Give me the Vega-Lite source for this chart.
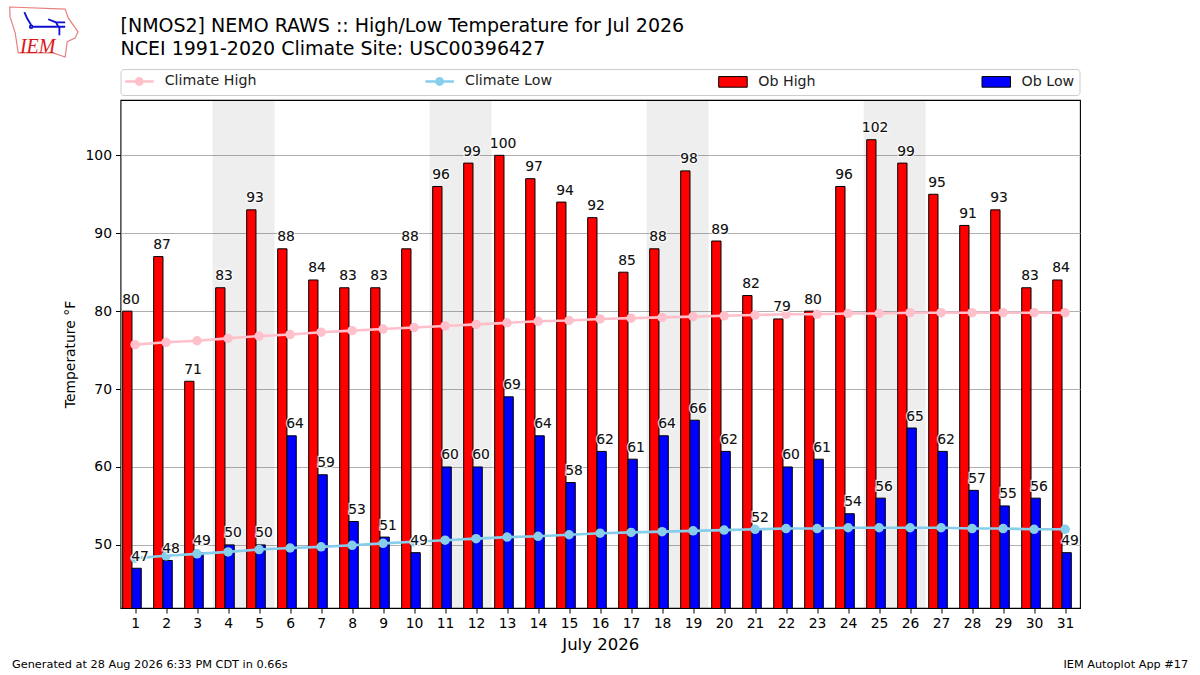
{
  "$schema": "https://vega.github.io/schema/vega-lite/v6.json",
  "width": 959.5,
  "height": 508,
  "autosize": "none",
  "padding": {"left": 120.5, "top": 100, "right": 120, "bottom": 67},
  "background": "white",
  "config": {
    "font": "DejaVu Sans",
    "view": {"stroke": "black", "strokeWidth": 1.1}
  },
  "title": {
    "text": ["[NMOS2] NEMO RAWS :: High/Low Temperature for Jul 2026", "NCEI 1991-2020 Climate Site: USC00396427"],
    "anchor": "start",
    "frame": "group",
    "font": "DejaVu Sans",
    "fontSize": 19,
    "fontWeight": "normal",
    "color": "black",
    "lineHeight": 23,
    "offset": 11,
    "dy": 65
  },
  "datasets": {
    "days": [
      {"day": 1, "ob_high": 80, "ob_low": 47, "clim_high": 75.7, "clim_low": 48.3},
      {"day": 2, "ob_high": 87, "ob_low": 48, "clim_high": 76.0, "clim_low": 48.6},
      {"day": 3, "ob_high": 71, "ob_low": 49, "clim_high": 76.2, "clim_low": 48.85},
      {"day": 4, "ob_high": 83, "ob_low": 50, "clim_high": 76.5, "clim_low": 49.1},
      {"day": 5, "ob_high": 93, "ob_low": 50, "clim_high": 76.8, "clim_low": 49.4},
      {"day": 6, "ob_high": 88, "ob_low": 64, "clim_high": 77.0, "clim_low": 49.6},
      {"day": 7, "ob_high": 84, "ob_low": 59, "clim_high": 77.3, "clim_low": 49.75},
      {"day": 8, "ob_high": 83, "ob_low": 53, "clim_high": 77.5, "clim_low": 49.95},
      {"day": 9, "ob_high": 83, "ob_low": 51, "clim_high": 77.7, "clim_low": 50.2},
      {"day": 10, "ob_high": 88, "ob_low": 49, "clim_high": 77.9, "clim_low": 50.4},
      {"day": 11, "ob_high": 96, "ob_low": 60, "clim_high": 78.1, "clim_low": 50.6},
      {"day": 12, "ob_high": 99, "ob_low": 60, "clim_high": 78.3, "clim_low": 50.8},
      {"day": 13, "ob_high": 100, "ob_low": 69, "clim_high": 78.5, "clim_low": 51.0},
      {"day": 14, "ob_high": 97, "ob_low": 64, "clim_high": 78.7, "clim_low": 51.1},
      {"day": 15, "ob_high": 94, "ob_low": 58, "clim_high": 78.8, "clim_low": 51.3},
      {"day": 16, "ob_high": 92, "ob_low": 62, "clim_high": 79.0, "clim_low": 51.5},
      {"day": 17, "ob_high": 85, "ob_low": 61, "clim_high": 79.1, "clim_low": 51.6},
      {"day": 18, "ob_high": 88, "ob_low": 64, "clim_high": 79.2, "clim_low": 51.7},
      {"day": 19, "ob_high": 98, "ob_low": 66, "clim_high": 79.3, "clim_low": 51.8},
      {"day": 20, "ob_high": 89, "ob_low": 62, "clim_high": 79.4, "clim_low": 51.9},
      {"day": 21, "ob_high": 82, "ob_low": 52, "clim_high": 79.5, "clim_low": 52.0},
      {"day": 22, "ob_high": 79, "ob_low": 60, "clim_high": 79.6, "clim_low": 52.1},
      {"day": 23, "ob_high": 80, "ob_low": 61, "clim_high": 79.6, "clim_low": 52.1},
      {"day": 24, "ob_high": 96, "ob_low": 54, "clim_high": 79.7, "clim_low": 52.2},
      {"day": 25, "ob_high": 102, "ob_low": 56, "clim_high": 79.7, "clim_low": 52.2},
      {"day": 26, "ob_high": 99, "ob_low": 65, "clim_high": 79.8, "clim_low": 52.2},
      {"day": 27, "ob_high": 95, "ob_low": 62, "clim_high": 79.8, "clim_low": 52.2},
      {"day": 28, "ob_high": 91, "ob_low": 57, "clim_high": 79.8, "clim_low": 52.1},
      {"day": 29, "ob_high": 93, "ob_low": 55, "clim_high": 79.8, "clim_low": 52.1},
      {"day": 30, "ob_high": 83, "ob_low": 56, "clim_high": 79.8, "clim_low": 52.0},
      {"day": 31, "ob_high": 84, "ob_low": 49, "clim_high": 79.8, "clim_low": 52.0}
    ],
    "weekends": [
      {"start": 3.5, "end": 5.5},
      {"start": 10.5, "end": 12.5},
      {"start": 17.5, "end": 19.5},
      {"start": 24.5, "end": 26.5}
    ],
    "footer": [
      {"x": -2.97, "y": 34.6, "note": "Generated at 28 Aug 2026 6:33 PM CDT in 0.66s", "side": "left"},
      {"x": 34.97, "y": 34.6, "note": "IEM Autoplot App #17", "side": "right"}
    ]
  },
  "data": {"name": "days"},
  "encoding": {
    "x": {
      "field": "day",
      "type": "quantitative",
      "scale": {"domain": [0.53, 31.48], "nice": false, "zero": false, "padding": 0},
      "axis": {
        "values": [1,2,3,4,5,6,7,8,9,10,11,12,13,14,15,16,17,18,19,20,21,22,23,24,25,26,27,28,29,30,31],
        "format": "d",
        "title": "July 2026",
        "titleFont": "DejaVu Sans",
        "titleFontSize": 16.5,
        "titleFontWeight": "normal",
        "titleColor": "black",
        "titlePadding": 7,
        "labelFontSize": 13.9,
        "labelColor": "black",
        "labelFlush": false,
        "labelOverlap": false,
        "labelPadding": 3,
        "tickColor": "black",
        "tickSize": 5,
        "domain": false,
        "grid": false
      }
    },
    "y": {
      "type": "quantitative",
      "scale": {"domain": [41.9, 107.1], "nice": false, "zero": false},
      "axis": {
        "values": [50, 60, 70, 80, 90, 100],
        "title": "Temperature °F",
        "titleFont": "DejaVu Sans",
        "titleFontSize": 13.9,
        "titleFontWeight": "normal",
        "titleColor": "black",
        "titlePadding": 7,
        "labelFontSize": 13.9,
        "labelColor": "black",
        "labelPadding": 4,
        "tickColor": "black",
        "tickSize": 5,
        "domain": false,
        "grid": true,
        "gridColor": "#b0b0b0",
        "gridWidth": 1
      }
    },
    "fill": {
      "scale": {
        "domain": ["Climate High", "Climate Low", "Ob High", "Ob Low"],
        "range": ["pink", "skyblue", "red", "blue"]
      },
      "legend": {
        "title": null,
        "orient": "none",
        "legendX": 0,
        "legendY": -31,
        "direction": "horizontal",
        "columns": 4,
        "columnPadding": 163.3,
        "symbolSize": 225,
        "labelFont": "DejaVu Sans",
        "labelFontSize": 14.2,
        "labelColor": "#222222",
        "labelOffset": 25,
        "padding": 5,
        "fillColor": "white",
        "strokeColor": "#cccccc",
        "cornerRadius": 3,
        "encoding": {
          "symbols": {
            "shape": {"value": {"expr": "datum.value == 'Climate High' || datum.value == 'Climate Low' ? 'M-1,0H2.8M1.32,0L1.26,0.215L1.105,0.372L0.89,0.43L0.675,0.372L0.52,0.215L0.46,0L0.52,-0.215L0.675,-0.372L0.89,-0.43L1.105,-0.372L1.26,-0.215Z' : 'M-1,-0.71H2.8V0.71H-1Z'"}},
            "stroke": {"value": {"expr": "datum.value == 'Climate High' ? 'pink' : datum.value == 'Climate Low' ? 'skyblue' : 'black'"}},
            "strokeWidth": {"value": {"expr": "datum.value == 'Climate High' || datum.value == 'Climate Low' ? 2.5 : 1"}},
            "opacity": {"value": 1}
          }
        }
      }
    }
  },
  "layer": [
    {
      "data": {"name": "weekends"},
      "mark": {"type": "rect", "fill": "black", "opacity": 0.067},
      "encoding": {
        "x": {"field": "start", "type": "quantitative"},
        "x2": {"field": "end"},
        "y": null,
        "fill": null
      }
    },
    {
      "mark": {"type": "bar", "width": 9.3, "xOffset": -7.75, "stroke": "black", "strokeWidth": 1, "clip": true, "orient": "vertical"},
      "encoding": {
        "y": {"field": "ob_high"},
        "fill": {"datum": "Ob High"}
      }
    },
    {
      "mark": {"type": "bar", "width": 9.3, "xOffset": 1.55, "stroke": "black", "strokeWidth": 1, "clip": true, "orient": "vertical"},
      "encoding": {
        "y": {"field": "ob_low"},
        "fill": {"datum": "Ob Low"}
      }
    },
    {
      "mark": {"type": "line", "strokeWidth": 2.6, "stroke": "pink"},
      "encoding": {"y": {"field": "clim_high"}, "fill": null}
    },
    {
      "mark": {"type": "point", "filled": true, "size": 90, "opacity": 1},
      "encoding": {
        "y": {"field": "clim_high"},
        "fill": {"datum": "Climate High"}
      }
    },
    {
      "mark": {"type": "line", "strokeWidth": 2.6, "stroke": "skyblue"},
      "encoding": {"y": {"field": "clim_low"}, "fill": null}
    },
    {
      "mark": {"type": "point", "filled": true, "size": 90, "opacity": 1},
      "encoding": {
        "y": {"field": "clim_low"},
        "fill": {"datum": "Climate Low"}
      }
    },
    {
      "mark": {"type": "text", "fontSize": 13.9, "dx": -4, "baseline": "bottom", "dy": -4.5, "stroke": "white", "strokeWidth": 2.5, "strokeOpacity": 0.8},
      "encoding": {"y": {"field": "ob_high"}, "text": {"field": "ob_high"}, "fill": null}
    },
    {
      "mark": {"type": "text", "fontSize": 13.9, "dx": 5, "baseline": "bottom", "dy": -4.5, "stroke": "white", "strokeWidth": 2.5, "strokeOpacity": 0.8},
      "encoding": {"y": {"field": "ob_low"}, "text": {"field": "ob_low"}, "fill": null}
    },
    {
      "mark": {"type": "text", "fontSize": 13.9, "dx": -4, "baseline": "bottom", "dy": -4.5, "fill": "#111111"},
      "encoding": {"y": {"field": "ob_high"}, "text": {"field": "ob_high"}, "fill": null}
    },
    {
      "mark": {"type": "text", "fontSize": 13.9, "dx": 5, "baseline": "bottom", "dy": -4.5, "fill": "#111111"},
      "encoding": {"y": {"field": "ob_low"}, "text": {"field": "ob_low"}, "fill": null}
    },
    {
      "data": {"name": "footer"},
      "transform": [{"filter": "datum.side == 'left'"}],
      "mark": {"type": "text", "fontSize": 11.3, "align": "left", "baseline": "middle", "fill": "black"},
      "encoding": {
        "x": {"field": "x", "type": "quantitative"},
        "y": {"field": "y", "type": "quantitative"},
        "text": {"field": "note"},
        "fill": null
      }
    },
    {
      "data": {"name": "footer"},
      "transform": [{"filter": "datum.side == 'right'"}],
      "mark": {"type": "text", "fontSize": 11.3, "align": "right", "baseline": "middle", "fill": "black"},
      "encoding": {
        "x": {"field": "x", "type": "quantitative"},
        "y": {"field": "y", "type": "quantitative"},
        "text": {"field": "note"},
        "fill": null
      }
    },
    {
      "data": {"values": [{"x": -1.935, "y": 115.85}]},
      "mark": {
        "type": "point",
        "size": 4624,
        "filled": false,
        "stroke": "#e88080",
        "strokeWidth": 1.2,
        "opacity": 1,
        "shape": "M-1.01,-0.73L0.62,-0.67L0.71,-0.41L1,0L0.91,0.18L0.68,0.29L0.62,0.74L0.26,0.62L-0.76,0.62L-0.85,0.03L-1,-0.44Z"
      },
      "encoding": {
        "x": {"field": "x", "type": "quantitative"},
        "y": {"field": "y", "type": "quantitative"},
        "fill": null
      }
    },
    {
      "data": {"values": [{"x": -1.935, "y": 115.85}]},
      "mark": {
        "type": "point",
        "size": 4624,
        "filled": false,
        "stroke": "#1010d0",
        "strokeWidth": 1.8,
        "opacity": 1,
        "shape": "M-0.36,-0.15H0.62M0.12,-0.37L0.35,-0.28L0.42,-0.15M0.35,-0.28H0.62M0.45,-0.15V0.1M-0.58,-0.58L-0.5,-0.4L-0.38,-0.2M-0.42,-0.15A0.04,0.04 0 1 1 -0.34,-0.15A0.04,0.04 0 1 1 -0.42,-0.15"
      },
      "encoding": {
        "x": {"field": "x", "type": "quantitative"},
        "y": {"field": "y", "type": "quantitative"},
        "fill": null
      }
    },
    {
      "data": {"values": [{"x": -2.14, "y": 113.95, "label": "IEM"}]},
      "mark": {"type": "text", "font": "Liberation Serif", "fontStyle": "italic", "fontSize": 20, "baseline": "middle", "fill": "#d81818"},
      "encoding": {
        "x": {"field": "x", "type": "quantitative"},
        "y": {"field": "y", "type": "quantitative"},
        "text": {"field": "label"},
        "fill": null
      }
    }
  ]
}
